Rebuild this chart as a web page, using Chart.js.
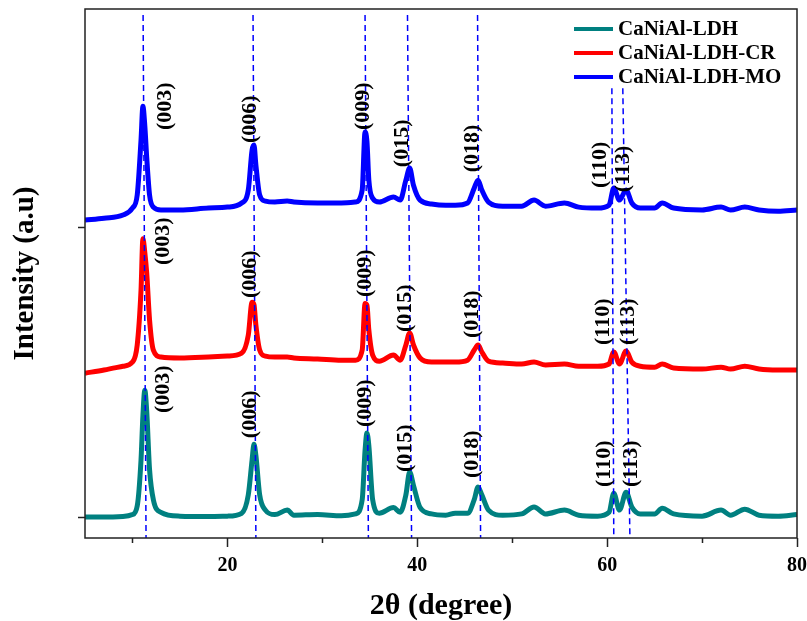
<!DOCTYPE html>
<html>
<head>
<meta charset="utf-8">
<title>XRD patterns</title>
<script src="https://cdn.jsdelivr.net/npm/chart.js@4.4.1/dist/chart.umd.min.js"></script>
<style>
    html, body { margin: 0; padding: 0; background: #fff; }
    #wrap { width: 807px; height: 621px; position: relative; }
</style>
</head>
<body>
<div id="wrap"><canvas id="xrdChart"></canvas></div>
<script>
// 2theta positions (degree) the intensities were read at
const twoTheta = [5, 7, 9, 10, 10.5, 10.9, 11.1, 11.3, 11.5, 11.8, 12.2, 13, 15, 18, 20, 21.5, 22.2, 22.6, 22.8, 23.0,
    23.4, 24, 25, 26.3, 27, 29.5, 32, 33.5, 34.2, 34.5, 34.7, 34.9, 35.3, 36, 37.5, 38.2, 38.8, 39.2, 39.6, 40.3,
    41.5, 43, 44, 45.3, 46, 46.4, 46.8, 47.5, 49, 51, 52.3, 53.5, 55.5, 57, 59, 60.2, 60.7, 61.3, 62.0, 62.6,
    63.5, 65, 65.8, 67, 70, 72, 73, 74.5, 76, 78, 80];

// intensities (a.u), each relative to its own baseline
const ldh = [0, 0, 2, 8, 35, 180, 320, 400, 335, 150, 55, 15, 3, 2, 3, 12, 70, 180, 230, 195,
    70, 22, 8, 22, 6, 8, 4, 10, 55, 210, 265, 225, 55, 12, 30, 15, 70, 142, 100, 30,
    10, 6, 12, 12, 55, 95, 70, 22, 6, 10, 32, 10, 22, 6, 3, 15, 75, 22, 78, 32,
    10, 10, 28, 10, 3, 22, 6, 25, 6, 3, 8];
const ldhCR = [-36, -26, -14, -1, 53, 225, 388, 345, 280, 132, 37, 15, 12, 15, 18, 27, 84, 188, 180, 116,
    37, 18, 15, 15, 12, 9, 5, 5, 37, 184, 178, 100, 21, 2, 21, 5, 53, 91, 53, 12,
    -1, -1, -1, 5, 37, 53, 31, 2, -4, -7, -1, -10, -7, -14, -14, -7, 31, -7, 34, -1,
    -14, -17, -7, -20, -23, -17, -23, -14, -23, -26, -26];
const ldhMO = [-48, -42, -32, -10, 31, 204, 311, 250, 150, 31, -7, -16, -16, -10, -7, 6, 47, 173, 189, 126,
    31, 12, 9, 12, 9, 6, 6, 9, 47, 230, 200, 78, 21, 9, 25, 15, 78, 116, 62, 15,
    3, -1, -1, 6, 53, 78, 47, 9, -4, -4, 15, -4, 6, -7, -10, -1, 53, 15, 47, 6,
    -10, -10, 6, -10, -16, -7, -16, -7, -16, -20, -16];

const seriesNames = ['CaNiAl-LDH', 'CaNiAl-LDH-CR', 'CaNiAl-LDH-MO'];
const stackOffsets = [0, 490, 985];

// reflections and the dashed guide lines (2theta at top and bottom of the line)
const reflections = ['(003)', '(006)', '(009)', '(015)', '(018)', '(110)', '(113)'];
const refLineTop = [11.12, 22.7, 34.5, 38.97, 46.35, 60.5, 61.65];
const refLineBottom = [11.43, 23.0, 34.85, 39.4, 46.67, 60.7, 62.4];
const refLineTopY = [1584, 1584, 1584, 1584, 1584, 1353, 1353];

const xMajorTicks = [20, 40, 60, 80];
const xMinorTicks = [10, 30, 50, 70];
const yTicks = [0, 915];

const colors = ['#008080', '#ff0000', '#0000ff'];
const Y_MIN = -66, Y_MAX = 1603;
const serif = '"Liberation Serif", "Times New Roman", serif';

// where the hkl labels sit: x centre (degree) and text bottom (y units)
const labelSpots = [
    { x: [13.3, 22.4, 34.5, 38.75, 45.8, 59.75, 62.5], y: [328, 249, 284, 142, 123, 95, 95] },
    { x: [13.2, 22.4, 34.5, 38.75, 45.8, 59.6, 62.2], y: [795, 691, 694, 584, 565, 543, 543] },
    { x: [13.44, 22.4, 34.3, 38.4, 45.8, 59.3, 61.75], y: [1221, 1180, 1221, 1104, 1088, 1038, 1025] }
];

function buildDatasets() {
    const sets = [];
    // guide lines first so they are drawn on top
    reflections.forEach((r, i) => {
        sets.push({
            label: 'guide ' + r,
            data: [{ x: refLineTop[i], y: refLineTopY[i] }, { x: refLineBottom[i], y: Y_MIN }],
            borderColor: '#0000ff',
            borderWidth: 1.5,
            borderDash: [6, 4],
            pointRadius: 0,
            order: 0
        });
    });
    [ldh, ldhCR, ldhMO].forEach((vals, s) => {
        sets.push({
            label: seriesNames[s],
            data: twoTheta.map((x, i) => ({ x: x, y: vals[i] + stackOffsets[s] })),
            borderColor: colors[s],
            borderWidth: 5,
            pointRadius: 0,
            cubicInterpolationMode: 'monotone',
            order: 1
        });
    });
    return sets;
}

const decorPlugin = {
    id: 'decor',
    afterDatasetsDraw(chart) {
        const ctx = chart.ctx;
        const area = chart.chartArea;
        const xs = chart.scales.x, ys = chart.scales.y;
        ctx.save();

        // hkl labels
        ctx.fillStyle = '#000';
        ctx.font = 'bold 22px ' + serif;
        ctx.textAlign = 'left';
        ctx.textBaseline = 'middle';
        labelSpots.forEach(spot => {
            reflections.forEach((r, i) => {
                ctx.save();
                ctx.translate(xs.getPixelForValue(spot.x[i]), ys.getPixelForValue(spot.y[i]));
                ctx.rotate(-Math.PI / 2);
                ctx.fillText(r, 0, 0);
                ctx.restore();
            });
        });

        // legend
        ctx.font = 'bold 21px ' + serif;
        const rows = [29, 53, 77];
        seriesNames.forEach((name, s) => {
            ctx.strokeStyle = colors[s];
            ctx.lineWidth = 4;
            ctx.beginPath();
            ctx.moveTo(574, rows[s]);
            ctx.lineTo(613, rows[s]);
            ctx.stroke();
            ctx.fillStyle = '#000';
            ctx.fillText(name, 618, rows[s] + 1);
        });

        // frame and minor ticks
        ctx.strokeStyle = '#222';
        ctx.lineWidth = 1.5;
        ctx.strokeRect(area.left, area.top, area.right - area.left, area.bottom - area.top);
        xMinorTicks.forEach(v => {
            const px = Math.round(xs.getPixelForValue(v)) + 0.5;
            ctx.beginPath();
            ctx.moveTo(px, area.bottom);
            ctx.lineTo(px, area.bottom + 5);
            ctx.stroke();
        });
        ctx.restore();
    }
};

function initializeXrdChart() {
    const ctx = document.getElementById('xrdChart').getContext('2d');

    const options = {
        responsive: true,
        maintainAspectRatio: false,
        animation: false,
        layout: { padding: { top: 9, right: 10, left: 0, bottom: 0 } },
        scales: {
            x: {
                type: 'linear',
                min: 5,
                max: 80,
                border: { display: false },
                grid: { drawOnChartArea: false, drawTicks: true, tickLength: 9, tickColor: '#222', tickWidth: 1.5 },
                afterBuildTicks: (scale) => { scale.ticks = xMajorTicks.map(v => ({ value: v })); },
                afterFit: (scale) => {
                    scale.height = 83;
                    scale.paddingLeft = 0;
                    scale.paddingRight = 0;
                },
                ticks: {
                    color: '#000',
                    padding: 7,
                    maxRotation: 0,
                    font: { family: serif, size: 20, weight: 'bold' }
                },
                title: {
                    display: true,
                    text: '2θ (degree)',
                    color: '#000',
                    font: { family: serif, size: 30, weight: 'bold', lineHeight: 1 },
                    padding: { top: 14, bottom: 0 }
                }
            },
            y: {
                min: Y_MIN,
                max: Y_MAX,
                border: { display: false },
                grid: { drawOnChartArea: false, drawTicks: true, tickLength: 7, tickColor: '#222', tickWidth: 1.5 },
                afterBuildTicks: (scale) => { scale.ticks = yTicks.map(v => ({ value: v })); },
                afterFit: (scale) => {
                    scale.width = 85;
                    scale.paddingTop = 0;
                    scale.paddingBottom = 0;
                },
                ticks: { display: false },
                title: {
                    display: true,
                    text: 'Intensity (a.u)',
                    color: '#000',
                    font: { family: serif, size: 29, weight: 'bold' },
                    padding: { top: 8, bottom: 0 }
                }
            }
        },
        plugins: {
            legend: { display: false },
            tooltip: { enabled: false }
        }
    };

    new Chart(ctx, {
        type: 'line',
        data: { datasets: buildDatasets() },
        options: options,
        plugins: [decorPlugin]
    });
}

initializeXrdChart();
</script>
</body>
</html>
